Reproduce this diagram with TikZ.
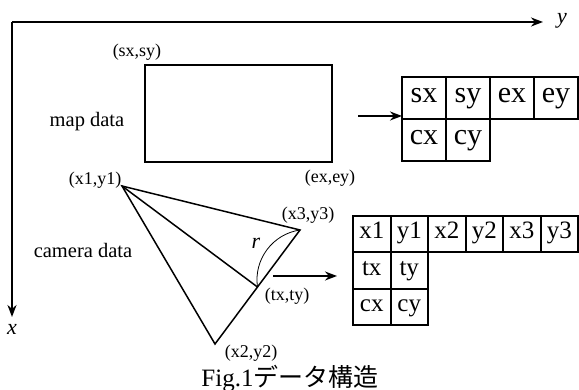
\documentclass[tikz,border=0pt]{standalone}
\usepackage{fontspec}
\setmainfont{Liberation Serif}
\newfontfamily\jpfont{Noto Sans CJK JP}
\usetikzlibrary{arrows.meta, positioning}

\begin{document}
\begin{tikzpicture}[> = {Stealth[length = 12pt, width = 9pt]}, % arrow head style
                x = 1pt, y = -1pt, % one unit per pixel, y grows downward
                line width = 1.7pt % line style
            ]

            \tikzstyle{lab}=[inner sep = 0pt, font = \fontsize{18}{20}\selectfont]
            \tikzstyle{title}=[inner sep = 0pt, font = \fontsize{20.5}{22}\selectfont]
            \tikzstyle{mcell}=[draw, line width = 2pt, inner sep = 0pt, outer sep = 0pt,
            minimum width = 44pt, minimum height = 42pt, text height = 0.95em,
            text depth = 0pt, font = \fontsize{30}{32}\selectfont]
            \tikzstyle{ccell}=[draw, line width = 2pt, inner sep = 0pt, outer sep = 0pt,
            minimum width = 37.5pt, minimum height = 36.3pt, text height = 0.95em,
            text depth = 0pt, font = \fontsize{25}{27}\selectfont]

            \useasboundingbox (0,0) rectangle (579,390);

            % axes
            \coordinate (o) at (12,22); \coordinate (ytip) at (543,22);
            \coordinate (xtip) at (12,317);
            \node[inner sep = 0pt, font = \fontsize{22}{24}\selectfont\itshape] (y) at (562,21) {y};
            \node[inner sep = 0pt, font = \fontsize{22}{24}\selectfont\itshape] (x) at (12,329) {x};
            \draw[->, line width = 2pt] (o) -- (ytip);
            \draw[->, line width = 2pt] (o) -- (xtip);

            % map data
            \node[draw, line width = 2pt, minimum width = 187pt, minimum height = 97pt]
            (map) at (238.5,113.5) {};
            \node[lab] (sxy) at (137,52) {(sx,sy)};
            \node[lab] (exy) at (330,178) {(ex,ey)};
            \node[title] (mapt) at (87,122) {map data};

            \node[mcell, anchor = north west] (m1) at (402,77) {sx};
            \node[mcell, right = 0pt of m1] (m2) {sy};
            \node[mcell, right = 0pt of m2] (m3) {ex};
            \node[mcell, right = 0pt of m3] (m4) {ey};
            \node[mcell, below = 0pt of m1] (m5) {cx};
            \node[mcell, right = 0pt of m5] (m6) {cy};

            \coordinate (ma) at (358,116);
            \draw[->] (ma) -- (ma -| m1.west);

            % camera data
            \coordinate (p1) at (122,186); \coordinate (p3) at (300,230);
            \coordinate (p2) at (215,344); \coordinate (pt) at (257.5,287);
            \draw[line width = 1.5pt, line join = miter] (p1) -- (p3) -- (p2) -- cycle;
            \draw[line width = 1.5pt] (p1) -- (pt);
            \draw[line width = 0.8pt] (pt) to[bend left = 45] (p3);
            \node[inner sep = 0pt, font = \fontsize{22}{24}\selectfont\itshape] (r) at (256,243) {r};

            \node[lab] (x1y1) at (95,180) {(x1,y1)};
            \node[lab] (x3y3) at (308,215) {(x3,y3)};
            \node[lab] (txty) at (287,296) {(tx,ty)};
            \node[lab] (x2y2) at (251,353) {(x2,y2)};
            \node[title] (camt) at (83,250) {camera data};

            \node[ccell, anchor = north west] (c1) at (353,216) {x1};
            \node[ccell, right = 0pt of c1] (c2) {y1};
            \node[ccell, right = 0pt of c2] (c3) {x2};
            \node[ccell, right = 0pt of c3] (c4) {y2};
            \node[ccell, right = 0pt of c4] (c5) {x3};
            \node[ccell, right = 0pt of c5] (c6) {y3};
            \node[ccell, below = 0pt of c1] (c7) {tx};
            \node[ccell, right = 0pt of c7] (c8) {ty};
            \node[ccell, below = 0pt of c7] (c9) {cx};
            \node[ccell, right = 0pt of c9] (c10) {cy};

            \coordinate (ca) at (273,276); \coordinate (cb) at (337,276);
            \draw[->] (ca) -- (cb);

            % caption
            \node[inner sep = 0pt, anchor = base, font = \fontsize{25}{27}\selectfont]
            (cap) at (290,386) {Fig.1{\jpfont データ構造}};
\end{tikzpicture}
\end{document}
